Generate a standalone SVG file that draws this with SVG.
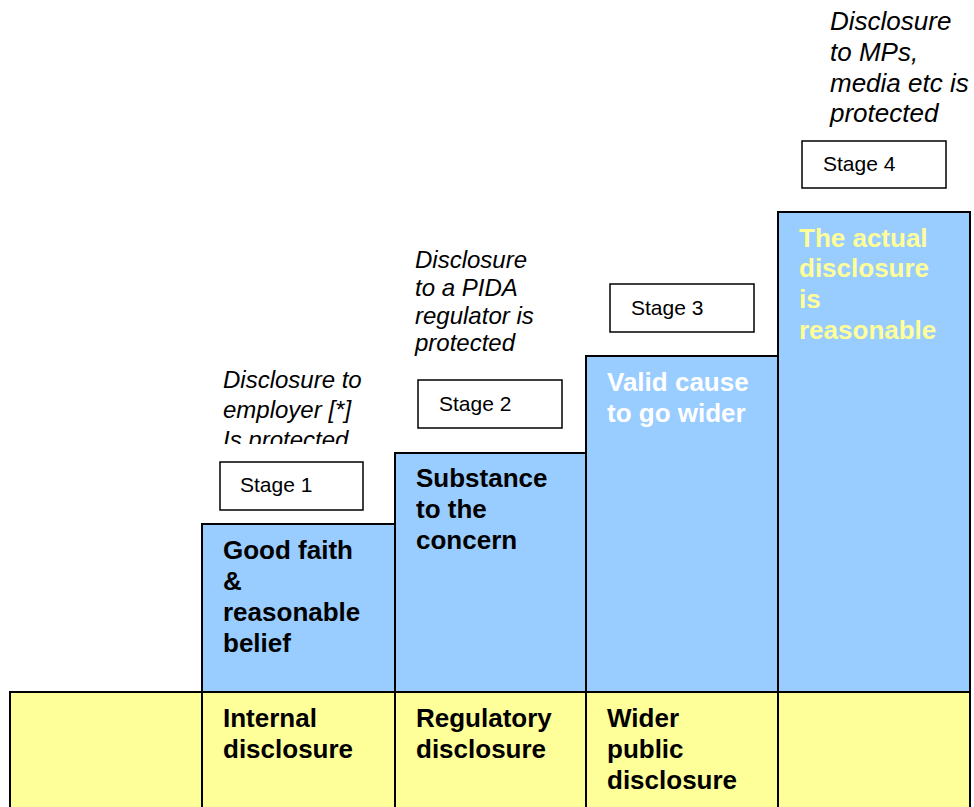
<svg xmlns="http://www.w3.org/2000/svg" width="974" height="807" viewBox="0 0 974 807">
<style>
.b{fill:#99ccff;stroke:#000;stroke-width:2}
.y{fill:#ffff99;stroke:#000;stroke-width:2}
.s{fill:#fff;stroke:#000;stroke-width:1.5}
.t{font-family:"Liberation Sans",Arial,sans-serif;font-weight:bold;font-size:26px;fill:#000}
.i{font-family:"Liberation Sans",Arial,sans-serif;font-style:italic;font-size:24px;fill:#000}
.st{font-family:"Liberation Sans",Arial,sans-serif;font-size:21px;fill:#000}
</style>
<defs><clipPath id="c1"><rect x="200" y="360" width="190" height="84"/></clipPath></defs>
<g id="base">
<rect class="y" x="10" y="692" width="960" height="130"/>
<rect class="y" x="202" y="692" width="193" height="130"/>
<rect class="y" x="395" y="692" width="191" height="130"/>
<rect class="y" x="586" y="692" width="192" height="130"/>
<text class="t"><tspan x="223" y="727">Internal</tspan><tspan x="223" y="758">disclosure</tspan></text>
<text class="t"><tspan x="416" y="727">Regulatory</tspan><tspan x="416" y="758">disclosure</tspan></text>
<text class="t"><tspan x="607" y="727">Wider</tspan><tspan x="607" y="758">public</tspan><tspan x="607" y="789">disclosure</tspan></text>
</g>
<g id="stage1">
<rect class="b" x="202" y="524" width="193" height="168"/>
<text class="t"><tspan x="223" y="559">Good faith</tspan><tspan x="223" y="590">&amp;</tspan><tspan x="223" y="621">reasonable</tspan><tspan x="223" y="652">belief</tspan></text>
<rect class="s" x="220" y="462" width="143" height="48"/>
<text class="st" x="240" y="492">Stage 1</text>
<text class="i" clip-path="url(#c1)"><tspan x="223" y="388">Disclosure to</tspan><tspan x="223" y="418">employer [*]</tspan><tspan x="223" y="448">Is protected</tspan></text>
</g>
<g id="stage2">
<rect class="b" x="395" y="453" width="191" height="239"/>
<text class="t"><tspan x="416" y="487">Substance</tspan><tspan x="416" y="518">to the</tspan><tspan x="416" y="549">concern</tspan></text>
<rect class="s" x="418" y="380" width="144" height="48"/>
<text class="st" x="439" y="411">Stage 2</text>
<text class="i"><tspan x="415" y="268">Disclosure</tspan><tspan x="415" y="296">to a PIDA</tspan><tspan x="415" y="324">regulator is</tspan><tspan x="415" y="351">protected</tspan></text>
</g>
<g id="stage3">
<rect class="b" x="586" y="356" width="192" height="336"/>
<text class="t" style="fill:#fff"><tspan x="607" y="391">Valid cause</tspan><tspan x="607" y="422">to go wider</tspan></text>
<rect class="s" x="610" y="284" width="144" height="48"/>
<text class="st" x="631" y="315">Stage 3</text>
</g>
<g id="stage4">
<rect class="b" x="778" y="212" width="192" height="480"/>
<text class="t" style="fill:#ffff99"><tspan x="799" y="247">The actual</tspan><tspan x="799" y="277">disclosure</tspan><tspan x="799" y="308">is</tspan><tspan x="799" y="339">reasonable</tspan></text>
<rect class="s" x="802" y="141" width="144" height="47"/>
<text class="st" x="823" y="171">Stage 4</text>
<text class="i" style="font-size:26px"><tspan x="830" y="30">Disclosure</tspan><tspan x="830" y="61">to MPs,</tspan><tspan x="830" y="92">media etc is</tspan><tspan x="830" y="122">protected</tspan></text>
</g>
<g id="connectors"></g>
</svg>
